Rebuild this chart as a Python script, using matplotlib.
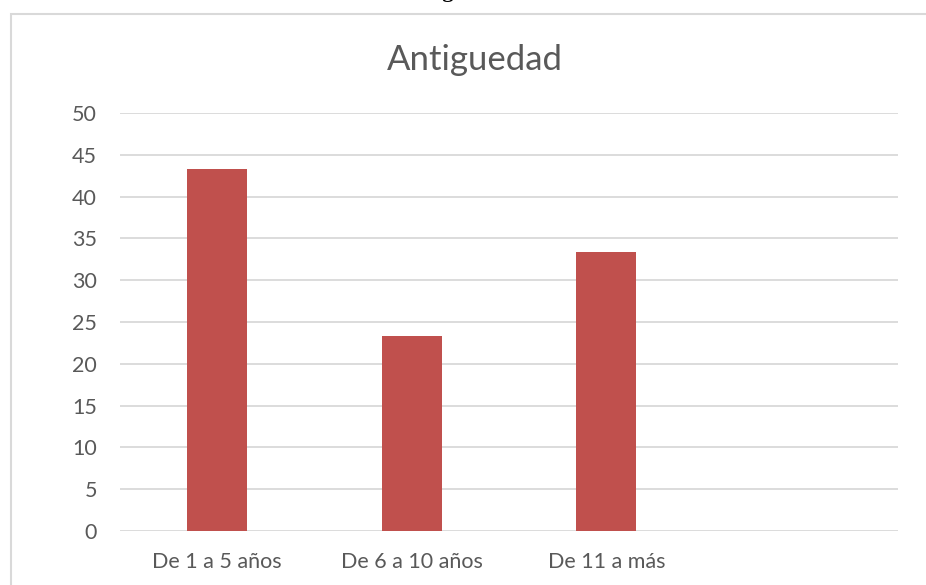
import matplotlib.pyplot as plt
from matplotlib.patches import Rectangle

# Data
categories = ['De 1 a 5 años', 'De 6 a 10 años', 'De 11 a más', '']
values = [43.33, 23.33, 33.33, 0]
y_ticks = [0, 5, 10, 15, 20, 25, 30, 35, 40, 45, 50]

plt.rcParams['font.family'] = ['Lato', 'DejaVu Sans']

fig = plt.figure(figsize=(9.26, 5.85), dpi=100)
ax = fig.add_axes([120 / 926, 54 / 585, 778 / 926, 418 / 585])

# chart border (Excel-like frame)
fig.patches.append(Rectangle((10.5 / 926, -0.1), 1.2, (585 - 13.5) / 585 + 0.1,
                             transform=fig.transFigure, fill=False,
                             edgecolor='#d9d9d9', linewidth=1.5))

# caption above the chart, cut off by the page
fig.text(457 / 926, 1 + 3 / 585, 'Antigüedad', ha='center', va='baseline',
         family='Liberation Serif', fontweight='bold', fontsize=16, color='black')

x = range(len(categories))
ax.bar(x[:3], values[:3], width=0.31, color='#C0504D', zorder=3)

ax.set_xlim(-0.5, len(categories) - 0.5)
ax.set_ylim(0, 50)
ax.set_yticks(y_ticks)
ax.set_xticks(list(x))
ax.set_xticklabels(categories)
ax.grid(axis='y', color='#d9d9d9', linewidth=1.3, zorder=0)
ax.tick_params(axis='both', length=0, labelsize=15.5, labelcolor='#595959')
ax.tick_params(axis='y', pad=16.5)
ax.tick_params(axis='x', pad=15)
for s in ax.spines.values():
    s.set_visible(False)

fig.text(475 / 926, 1 - 70 / 585, 'Antiguedad', ha='center', va='baseline',
         fontsize=25, color='#595959')

fig.savefig('out.png', dpi=100)
